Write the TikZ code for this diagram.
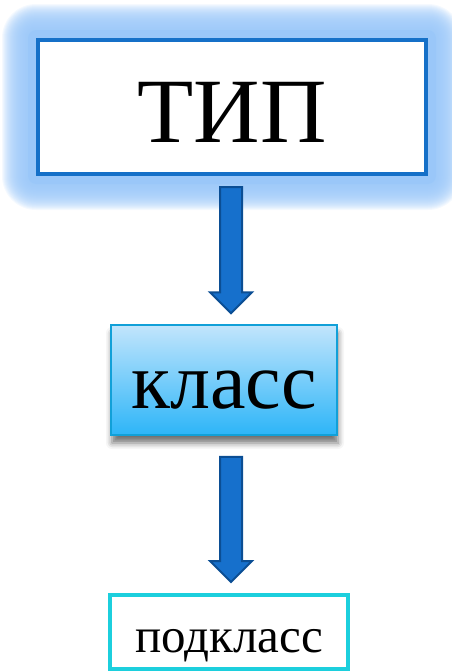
\documentclass[tikz,border=0pt]{standalone}
\usepackage{fontspec}
\setmainfont{Liberation Serif}
\usetikzlibrary{calc,shadows.blur}
\definecolor{tipblue}{HTML}{1570C8}
\definecolor{glowblue}{HTML}{9AC7F9}
\definecolor{arrowfill}{HTML}{1670CC}
\definecolor{arrowedge}{HTML}{0B4E94}
\definecolor{klasstop}{HTML}{C2E5FC}
\definecolor{klassbot}{HTML}{2DB5F8}
\definecolor{klassedge}{HTML}{11A0D8}
\definecolor{podedge}{HTML}{1CCFDD}
\definecolor{shadowcol}{HTML}{6E5E55}
\newcommand\blkarrow[3]{%
  \draw[bigarrow] ($(ax |- #1.south)+(-11,#3)$) -- ($(ax |- #2.north)+(-11,-32)$) -- ++(-10,0)
    -- ($(ax |- #2.north)+(0,-11)$) -- ($(ax |- #2.north)+(21,-32)$) -- ++(-10,0)
    -- ($(ax |- #1.south)+(11,#3)$) -- cycle;}
\begin{document}
\begin{tikzpicture}[x=1pt,y=-1pt,
  box/.style={rectangle, inner sep=0pt, text depth=0pt},
  tipbox/.style={box, draw=tipblue, line width=4pt, fill=white,
    minimum width=388pt, minimum height=134pt, text height=70pt,
    font=\fontsize{92}{92}\selectfont},
  klassbox/.style={box, draw=klassedge, line width=1.5pt,
    top color=klasstop, bottom color=klassbot,
    blur shadow={shadow xshift=1pt, shadow yshift=-8pt, shadow blur radius=6pt, shadow opacity=55, fill=shadowcol},
    minimum width=226pt, minimum height=110pt, text height=56pt,
    font=\fontsize{80}{80}\selectfont},
  podbox/.style={box, draw=podedge, line width=4pt, fill=white,
    minimum width=238pt, minimum height=74pt, text height=40pt,
    font=\fontsize{49}{49}\selectfont},
  bigarrow/.style={fill=arrowfill, draw=arrowedge, line width=2pt, line join=miter},
  glow/.style={fill=glowblue}
]
\useasboundingbox (0,0) rectangle (452,672);
\coordinate (ax) at (231,0);
% glow around the top box (box outer edge 36..428 x 38..176)
\fill[glow, rounded corners=8pt] (28,30) rectangle (436,184);
\foreach \d in {9,...,34}
  \fill[glow, opacity=0.1, rounded corners=\d pt] (36-\d,38-\d) rectangle (428+\d,176+\d);
\node[tipbox] (tip) at (232,107) {ТИП};
\node[klassbox] (klass) at (224,380) {класс};
\node[podbox] (pod) at (229,632) {подкласс};
\blkarrow{tip}{klass}{11}
\blkarrow{klass}{pod}{21}
\end{tikzpicture}
\end{document}
